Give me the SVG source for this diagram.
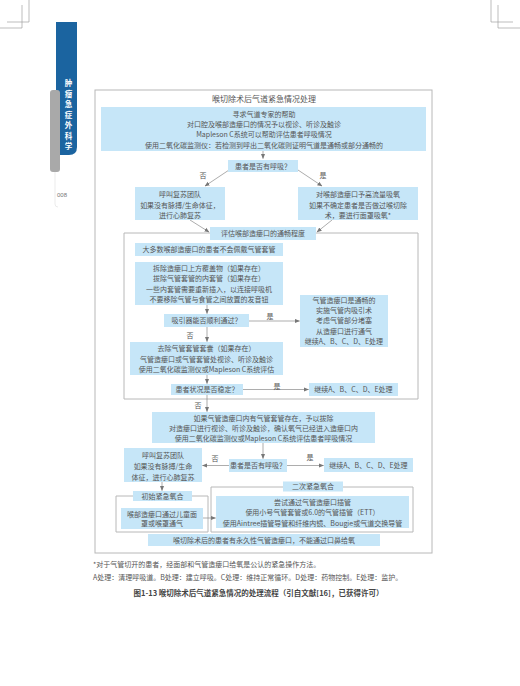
<svg xmlns="http://www.w3.org/2000/svg" width="520" height="686" viewBox="0 0 520 686">
<style>
.bx{fill:#c6e6f8}
.t{font-family:"Noto Sans CJK SC","Noto Sans",sans-serif;font-size:7px;fill:#555;text-anchor:middle}
.l{text-anchor:start}
.fr{fill:none;stroke:#b8b8b8;stroke-width:1}
.c{stroke:#8a8a8a;stroke-width:0.7;fill:none;marker-end:url(#a)}
.cm{stroke:#a0a0a0;stroke-width:0.7;fill:none}
</style>
<defs>
<marker id="a" viewBox="0 0 6 6" refX="5.5" refY="3" markerWidth="5" markerHeight="5" orient="auto" markerUnits="userSpaceOnUse">
<path d="M0,0.5 L6,3 L0,5.5 Z" fill="#777"/>
</marker>
</defs>
<rect width="520" height="686" fill="#fff"/>
<g id="cropmarks">
<path class="cm" d="M22,5 V28 H0 M29,0 V22 H7 M498,5 V28 H520 M491,0 V22 H513"/>
</g>
<g id="sidebar">
<path d="M56,22 H77 V147 Q77,155 69,155 H56 Z" fill="#1b64a0"/>
<rect x="50" y="90" width="10" height="82" rx="3" fill="#a9a9a9"/>
<g font-family="'Noto Sans CJK SC',sans-serif" font-size="7.5" font-weight="bold" fill="#fff" text-anchor="middle">
<text x="68.5" y="86">肿</text><text x="68.5" y="96.5">瘤</text><text x="68.5" y="107">急</text><text x="68.5" y="117.5">症</text><text x="68.5" y="128">外</text><text x="68.5" y="138.5">科</text><text x="68.5" y="149">学</text>
</g>
<path d="M55,172 V204 Q55,207 58,207" fill="none" stroke="#ddd" stroke-width="0.6"/>
<text x="62" y="197" font-family="'Liberation Sans',sans-serif" font-size="6" fill="#777" text-anchor="middle">008</text>
</g>
<rect class="fr" x="95" y="90" width="337" height="463"/>
<text class="t" x="264" y="102" style="font-size:8px">喉切除术后气道紧急情况处理</text>
<g id="frames">
<path class="fr" d="M210,233 H124 V399 H418 V233 H316"/>
<path class="fr" d="M133,496 H116 V532 H208 V496 H192"/>
<path class="fr" d="M283,487 H211 V532 H413 V487 H343"/>
</g>
<g id="connectors">
<path class="c" d="M263,151 V158.5"/>
<path class="c" d="M232,168 L205,186"/>
<path class="c" d="M295,168 L322,186"/>
<path class="c" d="M190,220 L209,232"/>
<path class="c" d="M332,220 L317,232"/>
<path class="c" d="M207,305 V313.5"/>
<path class="c" d="M249,321 H299.5"/>
<path class="c" d="M207,327 V341.5"/>
<path class="c" d="M207,375 V383.5"/>
<path class="c" d="M243,389.5 H308.5"/>
<path class="c" d="M207,395 V411.5"/>
<path class="c" d="M263,443 V458.5"/>
<path class="c" d="M229,465.5 H202.5"/>
<path class="c" d="M287,465.5 H323.5"/>
<path class="c" d="M162,482 V490.5"/>
<path class="c" d="M203,518 H215.5"/>
<g class="t"><text x="203" y="178">否</text><text x="323" y="178">是</text><text x="270" y="318.5">是</text><text x="190" y="337.5">否</text><text x="277" y="388.5">是</text><text x="198" y="407.5">否</text><text x="215" y="460.5">否</text><text x="310" y="459.5">是</text></g>
</g>
<g id="n1"><rect class="bx" x="101" y="107" width="325" height="44"/>
<text class="t" x="264" y="116.5">寻求气道专家的帮助</text>
<text class="t" x="264" y="126.5">对口腔及喉部造瘘口的情况予以视诊、听诊及触诊</text>
<text class="t" x="264" y="136.5">Mapleson C系统可以帮助评估患者呼吸情况</text>
<text class="t" x="264" y="147.5">使用二氧化碳监测仪：若检测到呼出二氧化碳则证明气道是通畅或部分通畅的</text></g>
<g id="n2"><rect class="bx" x="228" y="160" width="70" height="12"/>
<text class="t" x="263" y="168.5">患者是否有呼吸？</text></g>
<g id="n3"><rect class="bx" x="135" y="187" width="90" height="33"/>
<text class="t" x="180" y="196.5">呼叫复苏团队</text>
<text class="t" x="180" y="207.5">如果没有脉搏/生命体征，</text>
<text class="t" x="180" y="217.5">进行心肺复苏</text></g>
<g id="n4"><rect class="bx" x="298" y="187" width="120" height="33"/>
<text class="t" x="358" y="196.5">对喉部造瘘口予高流量吸氧</text>
<text class="t" x="358" y="207.5">如果不确定患者是否做过喉切除</text>
<text class="t" x="358" y="217.5">术，要进行面罩吸氧*</text></g>
<g id="n5"><rect class="bx" x="210" y="227" width="106" height="13"/>
<text class="t" x="263" y="236">评估喉部造瘘口的通畅程度</text></g>
<g id="n6"><rect class="bx" x="135" y="243" width="148" height="13"/>
<text class="t" x="209" y="252">大多数喉部造瘘口的患者不会佩戴气管套管</text></g>
<g id="n7"><rect class="bx" x="135" y="262" width="148" height="43"/>
<text class="t" x="209" y="270.5">拆除造瘘口上方覆盖物（如果存在）</text>
<text class="t" x="209" y="281">拔除气管套管的内套管（如果存在）</text>
<text class="t" x="209" y="291.5">一些内套管需要重新插入，以连接呼吸机</text>
<text class="t" x="209" y="302">不要移除气管与食管之间放置的发音钮</text></g>
<g id="n8"><rect class="bx" x="164" y="314" width="85" height="13"/>
<text class="t" x="206.5" y="323">吸引器能否顺利通过？</text></g>
<g id="n9"><rect class="bx" x="300" y="295" width="88" height="52"/>
<text class="t" x="344" y="302.5">气管造瘘口是通畅的</text>
<text class="t" x="344" y="313">实施气管内吸引术</text>
<text class="t" x="344" y="323">考虑气管部分堵塞</text>
<text class="t" x="344" y="333.5">从造瘘口进行通气</text>
<text class="t" x="344" y="343.5">继续A、B、C、D、E处理</text></g>
<g id="n10"><rect class="bx" x="130" y="342" width="153" height="33"/>
<text class="t" x="206.5" y="350.5">去除气管套管套囊（如果存在）</text>
<text class="t" x="206.5" y="361.5">气管造瘘口或气管套管处视诊、听诊及触诊</text>
<text class="t" x="206.5" y="372">使用二氧化碳监测仪或Mapleson C系统评估</text></g>
<g id="n11"><rect class="bx" x="171" y="384" width="72" height="11"/>
<text class="t" x="207" y="392">患者状况是否稳定？</text></g>
<g id="n12"><rect class="bx" x="309" y="383" width="89" height="13"/>
<text class="t" x="353.5" y="392">继续A、B、C、D、E处理</text></g>
<g id="n13"><rect class="bx" x="152" y="412" width="223" height="31"/>
<text class="t" x="263.5" y="420.5">如果气管造瘘口内有气管套管存在，予以拔除</text>
<text class="t" x="263.5" y="431">对造瘘口进行视诊、听诊及触诊，确认氧气已经进入造瘘口内</text>
<text class="t" x="263.5" y="441">使用二氧化碳监测仪或Mapleson C系统评估患者呼吸情况</text></g>
<g id="n14"><rect class="bx" x="229" y="459" width="58" height="13"/>
<text class="t" x="258" y="468">患者是否有呼吸？</text></g>
<g id="n15"><rect class="bx" x="324" y="458" width="89" height="14"/>
<text class="t" x="368.5" y="467.5">继续A、B、C、D、E处理</text></g>
<g id="n16"><rect class="bx" x="124" y="448" width="78" height="34"/>
<text class="t" x="163" y="457.5">呼叫复苏团队</text>
<text class="t" x="163" y="468.5">如果没有脉搏/生命</text>
<text class="t" x="163" y="479.5">体征，进行心肺复苏</text></g>
<g id="n17"><rect class="bx" x="133" y="491" width="59" height="10"/>
<text class="t" x="162.5" y="498.5">初始紧急氧合</text></g>
<g id="n18"><rect class="bx" x="121" y="508" width="82" height="21"/>
<text class="t" x="162" y="516.5">喉部造瘘口通过儿童面</text>
<text class="t" x="162" y="526">罩或喉罩通气</text></g>
<g id="n19"><rect class="bx" x="283" y="481.5" width="60" height="10"/>
<text class="t" x="313" y="489">二次紧急氧合</text></g>
<g id="n20"><rect class="bx" x="216" y="496" width="193" height="32"/>
<text class="t" x="312.5" y="505">尝试通过气管造瘘口插管</text>
<text class="t" x="312.5" y="515">使用小号气管套管或6.0的气管插管（ETT）</text>
<text class="t" x="312.5" y="525.5">使用Aintree插管导管和纤维内镜、Bougie或气道交换导管</text></g>
<g id="n21"><rect class="bx" x="148" y="534" width="232" height="12"/>
<text class="t" x="264" y="542.5">喉切除术后的患者有永久性气管造瘘口，不能通过口鼻给氧</text></g>
<g id="notes">
<text class="t l" x="93" y="566.5">*对于气管切开的患者，经面部和气管造瘘口给氧是公认的紧急操作方法。</text>
<text class="t l" x="93" y="579.5">A处理：清理呼吸道。B处理：建立呼吸。C处理：维持正常循环。D处理：药物控制。E处理：监护。</text>
<text class="t" x="258.5" y="596" style="font-size:7.5px;font-weight:bold;fill:#444">图1-13  喉切除术后气道紧急情况的处理流程（引自文献[16]，已获得许可）</text>
</g>
</svg>
